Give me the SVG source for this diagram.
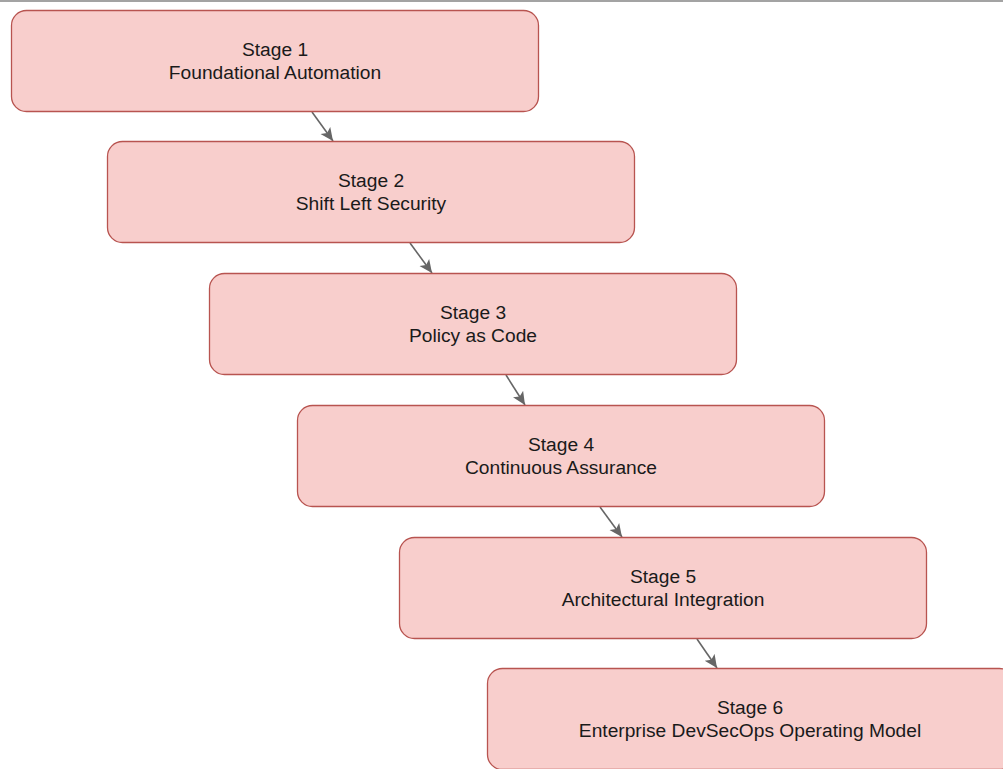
<svg xmlns="http://www.w3.org/2000/svg" width="1003" height="769" viewBox="0 0 1003 769">
  <style>
    .stage rect { fill: #f8cecc; stroke: #b85450; stroke-width: 1.3; }
    .stage text { font-family: "Liberation Sans", Arial, sans-serif; font-size: 19.2px; fill: #1a1a1a; text-anchor: middle; }
    .link { stroke: #666666; stroke-width: 1.6; fill: none; marker-end: url(#head); }
  </style>
  <defs>
    <marker id="head" markerUnits="userSpaceOnUse" markerWidth="14" markerHeight="13" refX="13" refY="6" orient="auto">
      <path d="M0,0 L13,6 L0,12 L3,6 Z" fill="#666666"/>
    </marker>
  </defs>

  <!-- top border -->
  <rect x="0" y="0" width="1003" height="2" fill="#a3a3a3"/>

  <g id="connectors">
    <line class="link" x1="312" y1="112" x2="333" y2="141"/>
    <line class="link" x1="410" y1="243" x2="432" y2="273"/>
    <line class="link" x1="506" y1="375" x2="525" y2="405"/>
    <line class="link" x1="600" y1="507" x2="622" y2="537"/>
    <line class="link" x1="697" y1="639" x2="717" y2="668"/>
  </g>

  <g id="stage1" class="stage">
    <rect x="11.5" y="10.5" width="527" height="101" rx="15"/>
    <text x="275" y="56">Stage 1</text>
    <text x="275" y="79">Foundational Automation</text>
  </g>
  <g id="stage2" class="stage">
    <rect x="107.5" y="141.5" width="527" height="101" rx="15"/>
    <text x="371" y="187">Stage 2</text>
    <text x="371" y="210">Shift Left Security</text>
  </g>
  <g id="stage3" class="stage">
    <rect x="209.5" y="273.5" width="527" height="101" rx="15"/>
    <text x="473" y="319">Stage 3</text>
    <text x="473" y="342">Policy as Code</text>
  </g>
  <g id="stage4" class="stage">
    <rect x="297.5" y="405.5" width="527" height="101" rx="15"/>
    <text x="561" y="451">Stage 4</text>
    <text x="561" y="474">Continuous Assurance</text>
  </g>
  <g id="stage5" class="stage">
    <rect x="399.5" y="537.5" width="527" height="101" rx="15"/>
    <text x="663" y="583">Stage 5</text>
    <text x="663" y="606">Architectural Integration</text>
  </g>
  <g id="stage6" class="stage">
    <rect x="487.5" y="668.5" width="527" height="101" rx="15"/>
    <text x="750" y="714">Stage 6</text>
    <text x="750" y="737">Enterprise DevSecOps Operating Model</text>
  </g>
</svg>
